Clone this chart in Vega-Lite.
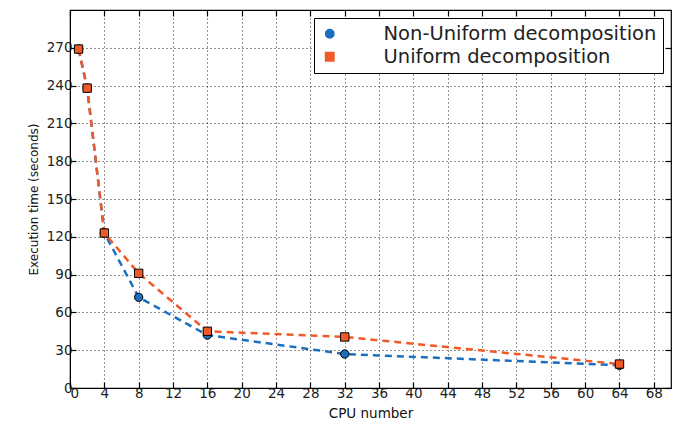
{
  "$schema": "https://vega.github.io/schema/vega-lite/v6.json",
  "width": 601,
  "height": 378,
  "autosize": {"type": "none"},
  "padding": {"left": 70, "top": 10, "right": 12, "bottom": 41},
  "background": "white",
  "config": {
    "view": {"stroke": "black", "strokeWidth": 1.2},
    "font": "DejaVu Sans",
    "axis": {
      "labelFont": "DejaVu Sans",
      "titleFont": "DejaVu Sans",
      "labelColor": "#222",
      "titleColor": "#111",
      "labelFontSize": 13.5,
      "tickColor": "black",
      "tickSize": -6,
      "tickWidth": 1.2,
      "domainColor": "black",
      "gridColor": "black",
      "gridDash": [1, 3],
      "gridOpacity": 0.85,
      "titleFontWeight": "normal"
    },
    "legend": {
      "orient": "top-right",
      "offset": 8,
      "strokeColor": "black",
      "fillColor": "white",
      "padding": 6,
      "labelFontSize": 19.5,
      "labelFont": "DejaVu Sans",
      "labelColor": "#222",
      "labelLimit": 400,
      "symbolSize": 70,
      "rowPadding": 2,
      "labelOffset": 44,
      "cornerRadius": 0
    }
  },
  "data": {
    "values": [
      {"cpu": 1, "time": 269, "series": "Non-Uniform decomposition"},
      {"cpu": 2, "time": 238, "series": "Non-Uniform decomposition"},
      {"cpu": 4, "time": 123, "series": "Non-Uniform decomposition"},
      {"cpu": 8, "time": 72, "series": "Non-Uniform decomposition"},
      {"cpu": 16, "time": 42, "series": "Non-Uniform decomposition"},
      {"cpu": 32, "time": 27, "series": "Non-Uniform decomposition"},
      {"cpu": 64, "time": 18, "series": "Non-Uniform decomposition"},
      {"cpu": 1, "time": 269, "series": "Uniform decomposition"},
      {"cpu": 2, "time": 238, "series": "Uniform decomposition"},
      {"cpu": 4, "time": 123, "series": "Uniform decomposition"},
      {"cpu": 8, "time": 91, "series": "Uniform decomposition"},
      {"cpu": 16, "time": 45, "series": "Uniform decomposition"},
      {"cpu": 32, "time": 40.5, "series": "Uniform decomposition"},
      {"cpu": 64, "time": 19, "series": "Uniform decomposition"}
    ]
  },
  "layer": [
    {
      "mark": {"type": "line", "strokeDash": [7, 5], "strokeWidth": 2.5},
      "encoding": {
        "x": {"field": "cpu", "type": "quantitative", "scale": {"domain": [0, 70], "nice": false},
              "axis": {"values": [0,4,8,12,16,20,24,28,32,36,40,44,48,52,56,60,64,68], "title": "CPU number", "titleFontSize": 13.5, "labelPadding": 4, "titlePadding": 7, "grid": true}},
        "y": {"field": "time", "type": "quantitative", "scale": {"domain": [0, 300], "nice": false},
              "axis": {"values": [0,30,60,90,120,150,180,210,240,270], "title": "Execution time (seconds)", "titleFontSize": 12, "labelPadding": 4, "titlePadding": 6, "grid": true}},
        "color": {"field": "series", "type": "nominal",
                  "legend": {"title": null, "labelLimit": 400},
                  "scale": {"domain": ["Non-Uniform decomposition", "Uniform decomposition"], "range": ["#1a6fbf", "#f05a28"]}},
        "order": {"field": "cpu"}
      }
    },
    {
      "mark": {"type": "point", "filled": true, "size": 70, "stroke": "black", "strokeWidth": 1, "opacity": 1},
      "encoding": {
        "x": {"field": "cpu", "type": "quantitative", "axis": null},
        "y": {"field": "time", "type": "quantitative", "axis": null},
        "color": {"field": "series", "type": "nominal",
                  "legend": {"title": null, "labelLimit": 400}},
        "shape": {"field": "series", "type": "nominal",
                  "legend": {"title": null, "labelLimit": 400},
                  "scale": {"domain": ["Non-Uniform decomposition", "Uniform decomposition"], "range": ["circle", "square"]}}
      }
    },
    {
      "mark": {"type": "point", "opacity": 0},
      "encoding": {
        "x": {"field": "cpu", "type": "quantitative",
              "axis": {"orient": "top", "labels": false, "title": null, "values": [0,4,8,12,16,20,24,28,32,36,40,44,48,52,56,60,64,68], "grid": false, "domain": false}},
        "y": {"field": "time", "type": "quantitative",
              "axis": {"orient": "right", "labels": false, "title": null, "values": [0,30,60,90,120,150,180,210,240,270], "grid": false, "domain": false}}
      }
    }
  ],
  "resolve": {"axis": {"x": "independent", "y": "independent"}}
}
